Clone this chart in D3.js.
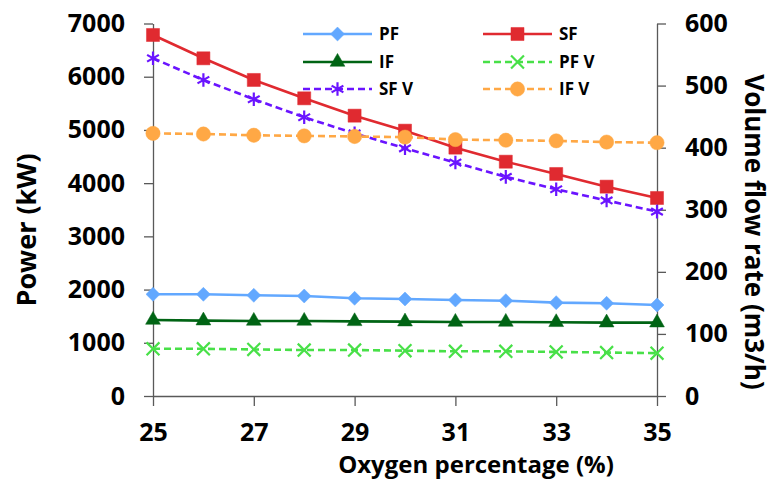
<!DOCTYPE html>
<html>
<head>
<meta charset="utf-8">
<script src="https://cdn.jsdelivr.net/npm/d3@7"></script>
<style>
  body { margin: 0; background: #fff; }
  svg text { font-family: "Open Sans", Lato, sans-serif; font-weight: bold; fill: #000; }
</style>
</head>
<body>
<svg id="chart"></svg>
<script>
// Oxygen percentage on the x axis
const oxygen = [25, 26, 27, 28, 29, 30, 31, 32, 33, 34, 35];

// Power series (kW, left axis)
const pfPower = [1911, 1911, 1892, 1879, 1836, 1823, 1804, 1791, 1754, 1742, 1710];
const sfPower = [6784, 6346, 5939, 5594, 5268, 4986, 4667, 4403, 4172, 3934, 3721];
const ifPower = [1428, 1416, 1410, 1410, 1403, 1397, 1391, 1391, 1385, 1378, 1378];

// Volume flow series (m3/h, right axis)
const pfFlow = [76, 76, 75, 74, 74, 73, 72, 72, 71, 70, 69];
const sfFlow = [544, 509, 478, 449, 423, 399, 376, 353, 333, 315, 297];
const ifFlow = [423, 422, 420, 419, 418, 417, 413, 412, 411, 409, 408];

const xTicks = [25, 27, 29, 31, 33, 35];
const powerTicks = [0, 1000, 2000, 3000, 4000, 5000, 6000, 7000];
const flowTicks = [0, 100, 200, 300, 400, 500, 600];

const width = 772, height = 482;
const plot = {left: 153, right: 657, top: 23.5, bottom: 396};

const svg = d3.select('#chart')
    .attr('width', width)
    .attr('height', height);

const x = d3.scaleLinear().domain([25, 35]).range([plot.left, plot.right]);
const yPower = d3.scaleLinear().domain([0, 7000]).range([plot.bottom, plot.top]);
const yFlow = d3.scaleLinear().domain([0, 600]).range([plot.bottom, plot.top]);

// series definitions
const series = [
  {name: 'PF', values: pfPower, y: yPower, color: '#62a8ff', dash: null, symbol: d3.symbolDiamond2, size: 125, fill: true},
  {name: 'SF', values: sfPower, y: yPower, color: '#e02a30', dash: null, symbol: d3.symbolSquare, size: 170, fill: true},
  {name: 'IF', values: ifPower, y: yPower, color: '#006414', dash: null, symbol: d3.symbolTriangle, size: 95, fill: true},
  {name: 'PF V', values: pfFlow, y: yFlow, color: '#48e048', dash: '7,4', symbol: d3.symbolTimes, size: 110, fill: false},
  {name: 'SF V', values: sfFlow, y: yFlow, color: '#6a14ff', dash: '7,4', symbol: d3.symbolAsterisk, size: 130, fill: false},
  {name: 'IF V', values: ifFlow, y: yFlow, color: '#ffa845', dash: '7,4', symbol: d3.symbolCircle, size: 160, fill: true}
];

// axes
const axisColor = '#595959';
function styleAxis(g) {
  g.selectAll('path, line').attr('stroke', axisColor).attr('stroke-width', 1.3);
  g.selectAll('text').style('font-size', '25px');
}

svg.append('g')
    .attr('transform', `translate(0,${plot.bottom})`)
    .call(d3.axisBottom(x).tickValues(xTicks).tickSize(10).tickSizeOuter(0).tickPadding(17))
    .call(styleAxis);

svg.append('g')
    .attr('transform', `translate(${plot.left},0)`)
    .call(d3.axisLeft(yPower).tickValues(powerTicks).tickFormat(d3.format('d')).tickSize(9).tickSizeOuter(0).tickPadding(19))
    .call(styleAxis);

svg.append('g')
    .attr('transform', `translate(${plot.right},0)`)
    .call(d3.axisRight(yFlow).tickValues(flowTicks).tickFormat(d3.format('d')).tickSize(9).tickSizeOuter(0).tickPadding(19))
    .call(styleAxis);

// axis titles
svg.append('text')
    .attr('x', 476).attr('y', 473)
    .attr('text-anchor', 'middle')
    .style('font-size', '24px')
    .text('Oxygen percentage (%)');

svg.append('text')
    .attr('transform', 'translate(36,230) rotate(-90)')
    .attr('text-anchor', 'middle')
    .style('font-size', '27px')
    .text('Power (kW)');

svg.append('text')
    .attr('transform', 'translate(745,232) rotate(90)')
    .attr('text-anchor', 'middle')
    .style('font-size', '26px')
    .text('Volume flow rate (m3/h)');

// lines and markers
const marks = svg.append('g');
series.forEach(s => {
  const line = d3.line()
      .x((d, i) => x(oxygen[i]))
      .y(d => s.y(d));
  marks.append('path')
      .datum(s.values)
      .attr('d', line)
      .attr('fill', 'none')
      .attr('stroke', s.color)
      .attr('stroke-width', 2.6)
      .attr('stroke-dasharray', s.dash);

  marks.selectAll(null)
      .data(s.values)
      .join('path')
      .attr('transform', (d, i) => `translate(${x(oxygen[i])},${s.y(d)})`)
      .attr('d', d3.symbol(s.symbol, s.size))
      .attr('fill', s.fill ? s.color : 'none')
      .attr('stroke', s.color)
      .attr('stroke-width', s.fill ? 0.5 : 2.2);
});

// legend
const legendCols = [303, 483];
const legendRows = [34, 62, 89];
const legend = svg.append('g');
series.forEach((s, i) => {
  const lx = legendCols[i % 2];
  const ly = legendRows[Math.floor(i / 2)];
  const item = legend.append('g').attr('transform', `translate(${lx},${ly})`);
  item.append('line')
      .attr('x1', 0).attr('x2', 69)
      .attr('stroke', s.color)
      .attr('stroke-width', 2.6)
      .attr('stroke-dasharray', s.dash);
  item.append('path')
      .attr('transform', 'translate(34.5,0)')
      .attr('d', d3.symbol(s.symbol, s.size))
      .attr('fill', s.fill ? s.color : 'none')
      .attr('stroke', s.color)
      .attr('stroke-width', s.fill ? 0.5 : 2.2);
  item.append('text')
      .attr('x', 76)
      .attr('dy', '0.36em')
      .style('font-size', '17px')
      .text(s.name);
});
</script>
</body>
</html>
